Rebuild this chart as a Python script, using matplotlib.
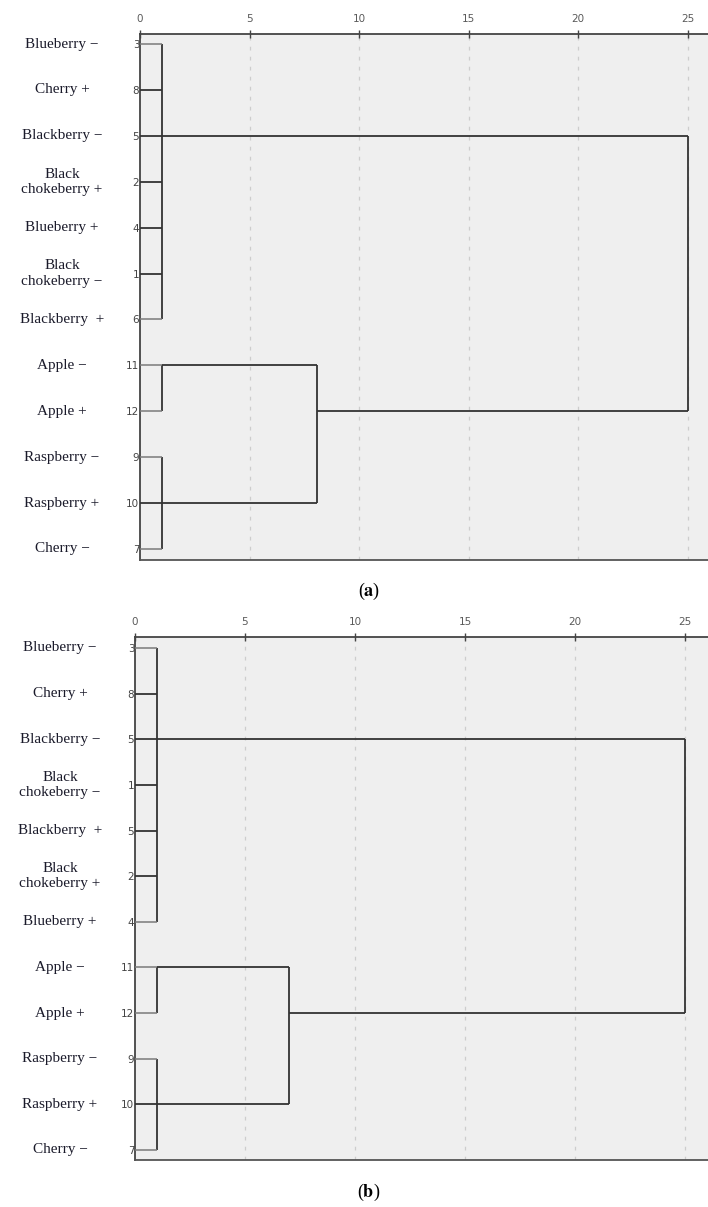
import matplotlib
matplotlib.use("Agg")
import matplotlib.pyplot as plt
from matplotlib.transforms import blended_transform_factory

plt.rcParams['mathtext.fontset'] = 'stix'

# ---------------- data ----------------
labels_a = ['Blueberry −', 'Cherry +', 'Blackberry −', 'Black\nchokeberry +',
            'Blueberry +', 'Black\nchokeberry −', 'Blackberry  +', 'Apple −',
            'Apple +', 'Raspberry −', 'Raspberry +', 'Cherry −']
case_ids_a = ['3', '8', '5', '2', '4', '1', '6', '11', '12', '9', '10', '7']
# merges: children (0-11 leaves, 12+ earlier merges), height, row where the link leaves
merge_children_a = [[0, 1, 2, 3, 4, 5, 6], [7, 8], [9, 10, 11], [13, 14], [12, 15]]
merge_height_a = [1.0, 1.0, 1.0, 8.1, 25.0]
merge_out_row_a = [2, 7, 10, 8, 2]

labels_b = ['Blueberry −', 'Cherry +', 'Blackberry −', 'Black\nchokeberry −',
            'Blackberry  +', 'Black\nchokeberry +', 'Blueberry +', 'Apple −',
            'Apple +', 'Raspberry −', 'Raspberry +', 'Cherry −']
case_ids_b = ['3', '8', '5', '1', '5', '2', '4', '11', '12', '9', '10', '7']
merge_children_b = [[0, 1, 2, 3, 4, 5, 6], [7, 8], [9, 10, 11], [13, 14], [12, 15]]
merge_height_b = [1.0, 1.0, 1.0, 7.0, 25.0]
merge_out_row_b = [2, 7, 10, 8, 2]

x_ticks = [0, 5, 10, 15, 20, 25]
panel_tags = ['a', 'b']

W, H = 708, 1207
fig = plt.figure(figsize=(W / 100, H / 100), dpi=100)

LINE = '#333333'
LIGHT = '#7a7a7a'


def draw_panel(rect, labels, ids, children, heights, out_rows, xmax, ylim, label_x_px):
    ax = fig.add_axes(rect)
    ax.set_facecolor('#efefef')
    n = len(labels)
    node_h = {i: 0.0 for i in range(n)}
    node_row = {i: i for i in range(n)}
    for k, (ch, h, orow) in enumerate(zip(children, heights, out_rows)):
        rows = [node_row[c] for c in ch]
        ax.plot([h, h], [min(rows), max(rows)], color=LINE, lw=1.3,
                solid_capstyle='butt', zorder=3)
        for c in ch:
            r = node_row[c]
            edge = (r == min(rows) or r == max(rows)) and c < n
            ax.plot([node_h[c], h], [r, r], color=LIGHT if edge else LINE,
                    lw=1.1 if edge else 1.3, solid_capstyle='butt', zorder=3)
        node_h[n + k] = h
        node_row[n + k] = orow

    ax.set_xlim(0, xmax)
    ax.set_ylim(*ylim)
    ax.xaxis.tick_top()
    ax.set_xticks(x_ticks)
    ax.set_xticklabels([str(t) for t in x_ticks], fontsize=7.5, color='#5a5a5a',
                       family='DejaVu Sans')
    ax.tick_params(axis='x', direction='inout', length=6, width=1.0,
                   color='#444444', pad=4)
    ax.set_yticks(range(n))
    ax.set_yticklabels(ids, fontsize=7.5, color='#444444', family='DejaVu Sans')
    ax.tick_params(axis='y', length=0, pad=0.5)
    for t in x_ticks[1:]:
        ax.axvline(t, color='#cdcdcd', lw=0.9, ls=(0, (3, 5)), zorder=1)
    ax.spines['right'].set_visible(False)
    for s in ['top', 'left']:
        ax.spines[s].set_color('#444444')
        ax.spines[s].set_linewidth(1.3)
    ax.spines['bottom'].set_color('#555555')
    ax.spines['bottom'].set_linewidth(1.3)

    tr = blended_transform_factory(fig.transFigure, ax.transData)
    for i, lab in enumerate(labels):
        ax.text(label_x_px / W, i, lab, transform=tr, ha='center', va='center',
                family='Liberation Serif', fontsize=11, color='#1a1a2a',
                linespacing=1.25)
    return ax


# panel (a): axes from x=140px, y=34..560px
ax_a = draw_panel([140 / W, 1 - 560 / H, (W - 140) / W, (560 - 34) / H],
                  labels_a, case_ids_a, merge_children_a, merge_height_a,
                  merge_out_row_a, (W - 140) / 21.9, (11.24, -0.22), 62)
# panel (b): axes from x=135px, y=637..1160px
ax_b = draw_panel([135 / W, 1 - 1160 / H, (W - 135) / W, (1160 - 637) / H],
                  labels_b, case_ids_b, merge_children_b, merge_height_b,
                  merge_out_row_b, (W - 135) / 22.0, (11.22, -0.24), 60)

for tag, ypx in zip(panel_tags, [591, 1192]):
    fig.text(369 / W, 1 - ypx / H, '(' + r'$\mathbf{' + tag + '}$' + ')',
             ha='center', va='center', fontsize=13, family='Liberation Serif')

fig.savefig('out.png', dpi=100)
